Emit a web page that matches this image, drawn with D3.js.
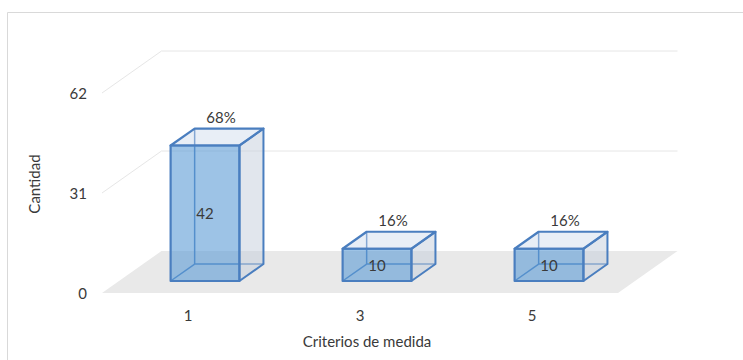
<!DOCTYPE html>
<html>
<head>
<meta charset="utf-8">
<script src="https://cdn.jsdelivr.net/npm/d3@7"></script>
<style>
  body { margin: 0; background: #fff; }
  text { font-family: Lato, "Open Sans", sans-serif; fill: #3a3a3a; }
</style>
</head>
<body>
<div id="chart"></div>
<script>
// data
let categories = ["1", "3", "5"];
let counts = [42, 10, 10];
let percents = ["68%", "16%", "16%"];
let yTicks = [0, 31, 62];

let W = 743, H = 360;
// fake 3d: depth offset of the floor
let DX = 59.5, DY = 42;
let zFront = 0.286, zBack = 0.69;

let svg = d3.select('#chart').append('svg')
    .attr('width', W)
    .attr('height', H);

// chart frame
svg.append('path')
    .attr('d', 'M7.5,' + H + 'V12.5H' + W)
    .attr('fill', 'none')
    .attr('stroke', '#d9d9d9');

let xScale = d3.scaleBand().domain(categories).range([102, 618]);
let yScale = d3.scaleLinear().domain([0, 62]).range([293, 93]);

// projection of (screen x on front plane, value, depth 0..1)
let proj = (x, v, z) => [x + z * DX, yScale(v) - z * DY];
let pts = arr => arr.map(p => p.join(',')).join(' ');

let x0 = xScale.range()[0], x1 = xScale.range()[1];

// floor
svg.append('polygon')
    .attr('points', pts([proj(x0, 0, 0), proj(x1, 0, 0), proj(x1, 0, 1), proj(x0, 0, 1)]))
    .attr('fill', '#e9e9e9');

// gridlines: side diagonal + back wall
let grid = svg.append('g').attr('stroke', '#e6e6e6').attr('fill', 'none');
yTicks.filter(t => t > 0).forEach(t => {
    grid.append('polyline')
        .attr('points', pts([proj(x0, t, 0), proj(x0, t, 1), proj(x1, t, 1)]));
});

// y tick labels
svg.append('g').selectAll('text')
    .data(yTicks)
    .enter().append('text')
    .attr('x', 87)
    .attr('y', d => yScale(d) + 2)
    .attr('text-anchor', 'end')
    .attr('dominant-baseline', 'middle')
    .style('font-size', '15px')
    .text(d => d);

// bars as boxes
let barW = xScale.bandwidth() * 0.4;
let bars = svg.selectAll('g.bar')
    .data(categories.map((c, i) => ({cat: c, v: counts[i], pct: percents[i]})))
    .enter().append('g')
    .attr('class', 'bar');

bars.each(function (d) {
    let g = d3.select(this);
    let cx = xScale(d.cat) + xScale.bandwidth() / 2;
    let l = cx - barW / 2, r = cx + barW / 2;
    let c = (x, v, z) => proj(x, v, z);
    let edge = '#4a7ebf';

    // hidden back edges, seen through the front
    g.append('polyline')
        .attr('points', pts([c(l, d.v, zBack), c(l, 0, zBack), c(r, 0, zBack)]))
        .attr('fill', 'none').attr('stroke', edge).attr('stroke-width', 1.5);
    g.append('line')
        .attr('x1', c(l, 0, zFront)[0]).attr('y1', c(l, 0, zFront)[1])
        .attr('x2', c(l, 0, zBack)[0]).attr('y2', c(l, 0, zBack)[1])
        .attr('stroke', edge).attr('stroke-width', 1.5);

    // right side face
    g.append('polygon')
        .attr('points', pts([c(r, 0, zFront), c(r, 0, zBack), c(r, d.v, zBack), c(r, d.v, zFront)]))
        .attr('fill', 'rgba(195,205,220,0.5)')
        .attr('stroke', edge).attr('stroke-width', 2).attr('stroke-linejoin', 'round');
    // top face
    g.append('polygon')
        .attr('points', pts([c(l, d.v, zFront), c(r, d.v, zFront), c(r, d.v, zBack), c(l, d.v, zBack)]))
        .attr('fill', 'rgba(205,218,234,0.45)')
        .attr('stroke', edge).attr('stroke-width', 2.2).attr('stroke-linejoin', 'round');
    // front face
    g.append('polygon')
        .attr('points', pts([c(l, 0, zFront), c(r, 0, zFront), c(r, d.v, zFront), c(l, d.v, zFront)]))
        .attr('fill', 'rgba(91,155,213,0.6)')
        .attr('stroke', edge).attr('stroke-width', 2.2).attr('stroke-linejoin', 'round');

    // value label in the front face
    let fc = c(cx, d.v / 2, zFront);
    g.append('text')
        .attr('x', fc[0])
        .attr('y', fc[1] + 2)
        .attr('text-anchor', 'middle')
        .attr('dominant-baseline', 'middle')
        .style('font-size', '15px')
        .text(d.v);

    // percent label above the box
    let tp = c(cx, d.v, zBack);
    g.append('text')
        .attr('x', tp[0] - 8)
        .attr('y', tp[1] - 6)
        .attr('text-anchor', 'middle')
        .style('font-size', '15px')
        .text(d.pct);
});

// category labels along the front edge
svg.append('g').selectAll('text')
    .data(categories)
    .enter().append('text')
    .attr('x', d => xScale(d) + xScale.bandwidth() / 2)
    .attr('y', 321)
    .attr('text-anchor', 'middle')
    .style('font-size', '15px')
    .text(d => d);

// axis titles
svg.append('text')
    .attr('x', 367)
    .attr('y', 347)
    .attr('text-anchor', 'middle')
    .style('font-size', '15px')
    .text('Criterios de medida');

svg.append('text')
    .attr('transform', 'translate(40,184) rotate(-90)')
    .attr('text-anchor', 'middle')
    .style('font-size', '15px')
    .text('Cantidad');
</script>
</body>
</html>
